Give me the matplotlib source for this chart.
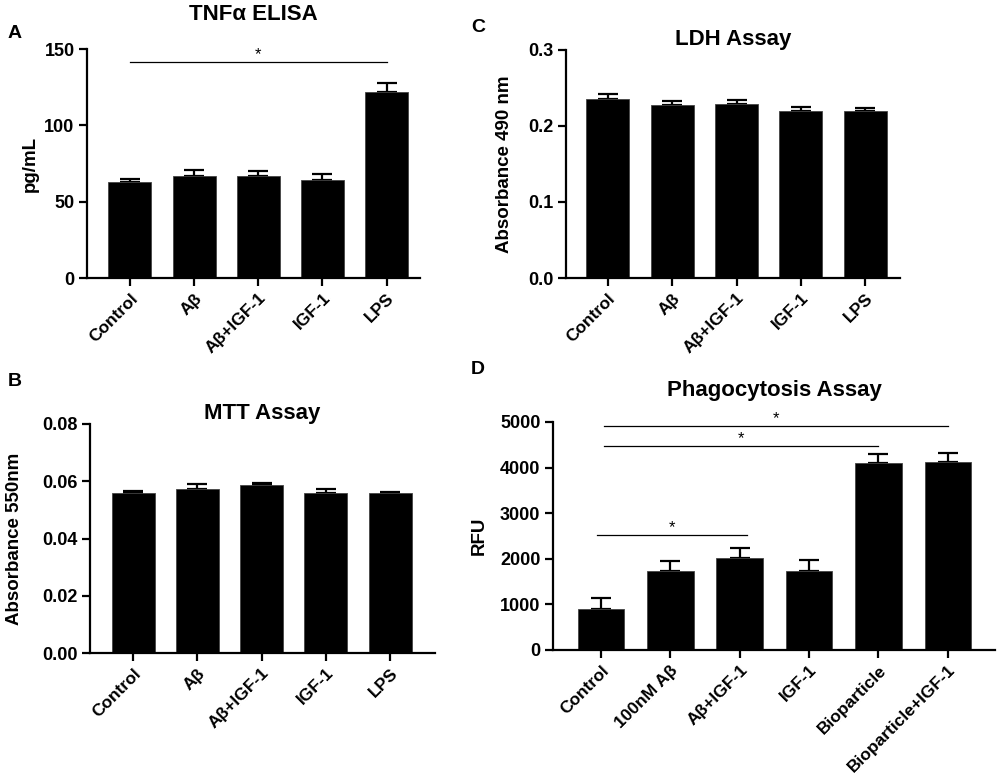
import numpy as np
import matplotlib
matplotlib.use("Agg")
import matplotlib.pyplot as plt

plt.rcParams["font.family"] = ["Liberation Sans", "DejaVu Sans"]
plt.rcParams["font.weight"] = "bold"

# Panel A - TNFa ELISA
tnf_labels = ["Control", "Aβ", "Aβ+IGF-1", "IGF-1", "LPS"]
tnf_mean = [62.8, 66.7, 66.7, 64.3, 122.0]
tnf_err = [2.1, 3.9, 3.7, 3.5, 5.9]

# Panel B - MTT assay
mtt_labels = ["Control", "Aβ", "Aβ+IGF-1", "IGF-1", "LPS"]
mtt_mean = [0.0559, 0.0573, 0.0586, 0.0559, 0.0559]
mtt_err = [0.0008, 0.0016, 0.0009, 0.0015, 0.0005]

# Panel C - LDH assay
ldh_labels = ["Control", "Aβ", "Aβ+IGF-1", "IGF-1", "LPS"]
ldh_mean = [0.236, 0.228, 0.229, 0.220, 0.220]
ldh_err = [0.006, 0.0046, 0.005, 0.005, 0.0034]

# Panel D - Phagocytosis assay
phago_labels = ["Control", "100nM Aβ", "Aβ+IGF-1", "IGF-1", "Bioparticle", "Bioparticle+IGF-1"]
phago_mean = [896, 1727, 2012, 1735, 4096, 4118]
phago_err = [248, 226, 218, 248, 197, 197]

W, H = 1000, 780
fig = plt.figure(figsize=(10, 7.8), dpi=100)


def px_axes(left, right, top, bottom):
    return fig.add_axes([left / W, 1 - bottom / H, (right - left) / W, (bottom - top) / H])


def bar_panel(ax, labels, mean, err, ylim, yticks, ytl, ylabel, xlim, label_x):
    x = np.arange(len(labels))
    ax.bar(x, mean, width=0.67, color="black", edgecolor="#444444", linewidth=0.6, zorder=2)
    ax.errorbar(x, mean, yerr=[np.zeros(len(err)), err], fmt="none", ecolor="black",
                elinewidth=1.6, capsize=7.5, capthick=1.6, zorder=1)
    ax.set_xlim(*xlim)
    ax.set_ylim(*ylim)
    ax.set_yticks(yticks)
    ax.set_yticklabels(ytl, fontsize=13, fontweight="bold")
    ax.set_xticks(x)
    ax.set_xticklabels(labels, rotation=45, ha="right", va="top", rotation_mode="anchor",
                       fontsize=12.5, fontweight="bold")
    for s in ["top", "right"]:
        ax.spines[s].set_visible(False)
    for s in ["left", "bottom"]:
        ax.spines[s].set_linewidth(1.6)
    ax.tick_params(direction="out", length=6, width=1.6, pad=3)
    ax.set_ylabel(ylabel, fontsize=13.5, fontweight="bold")
    ax.yaxis.set_label_coords(label_x, 0.5)


def sig(ax, x1, x2, y, star_x=None):
    ax.plot([x1, x2], [y, y], color="black", lw=0.9, clip_on=False)
    if star_x is None:
        star_x = (x1 + x2) / 2
    ax.text(star_x, y, "*", ha="center", va="bottom", fontsize=12, fontweight="normal")


# A
axA = px_axes(87, 420, 49, 278)
bar_panel(axA, tnf_labels, tnf_mean, tnf_err, (0, 150), [0, 50, 100, 150],
          ["0", "50", "100", "150"], "pg/mL", (-0.67, 4.52), -0.144)
sig(axA, 0, 4, 141.5)
axA.set_title("TNFα ELISA", fontsize=16, fontweight="bold", pad=21)

# B
axB = px_axes(90, 435, 424, 653)
bar_panel(axB, mtt_labels, mtt_mean, mtt_err, (0, 0.08), [0, 0.02, 0.04, 0.06, 0.08],
          ["0.00", "0.02", "0.04", "0.06", "0.08"], "Absorbance 550nm", (-0.67, 4.70), -0.194)
axB.set_title("MTT Assay", fontsize=16, fontweight="bold", pad=-12)

# C
axC = px_axes(566, 900, 50, 278)
bar_panel(axC, ldh_labels, ldh_mean, ldh_err, (0, 0.3), [0, 0.1, 0.2, 0.3],
          ["0.0", "0.1", "0.2", "0.3"], "Absorbance 490 nm", (-0.65, 4.54), -0.159)
axC.set_title("LDH Assay", fontsize=16, fontweight="bold", pad=2)

# D
axD = px_axes(553, 995, 422, 650)
bar_panel(axD, phago_labels, phago_mean, phago_err, (0, 5000), [0, 1000, 2000, 3000, 4000, 5000],
          ["0", "1000", "2000", "3000", "4000", "5000"], "RFU", (-0.69, 5.68), -0.147)
sig(axD, 0.05, 5, 4913)
sig(axD, 0.05, 4, 4475)
sig(axD, -0.06, 2.1, 2515)
axD.set_title("Phagocytosis Assay", fontsize=16, fontweight="bold", pad=19)

# panel letters
for letter, px, py in [("A", 15, 33), ("B", 15, 381), ("C", 478, 27), ("D", 478, 370)]:
    fig.text(px / W, 1 - py / H, letter, fontsize=14, fontweight="bold", ha="center", va="center")

fig.savefig("out.png", dpi=100)
